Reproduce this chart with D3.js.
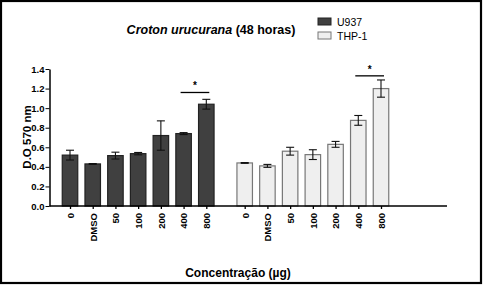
<!DOCTYPE html>
<meta charset="utf-8">
<style>
  body { margin: 0; background: #fff; }
  text { font-family: "Liberation Sans", Arial, sans-serif; }
</style>
<body>
<script src="https://d3js.org/d3.v7.min.js"></script>
<script>
  var doses = ["0", "DMSO", "50", "100", "200", "400", "800"];
  var groups = ["U937", "THP-1"];
  var u937Vals = [0.52, 0.43, 0.515, 0.535, 0.72, 0.74, 1.04];
  var u937Err  = [0.05, 0.004, 0.035, 0.012, 0.15, 0.01, 0.05];
  var thp1Vals = [0.44, 0.41, 0.56, 0.525, 0.63, 0.875, 1.20];
  var thp1Err  = [0.004, 0.015, 0.04, 0.05, 0.03, 0.05, 0.088];
  var yTicks = [0, 0.2, 0.4, 0.6, 0.8, 1.0, 1.2, 1.4];
  var sigLines = [{group: 0, y: 1.16}, {group: 1, y: 1.33}];

  var svg = d3.select("body").append("svg")
          .attr("width", 483)
          .attr("height", 285);

  svg.append("rect")
          .attr("x", 1).attr("y", 1)
          .attr("width", 480).attr("height", 282)
          .attr("fill", "none")
          .attr("stroke", "#000")
          .attr("stroke-width", 2.2);

  var groupGap = 7.69;
  var axisLeft = 49.5, axisRight = 447;
  var xScale = d3.scaleLinear().domain([0, 6 + groupGap]).range([70, 381]);
  var yScale = d3.scaleLinear().domain([0, 1.4]).range([206, 69]);
  var barW = 15.5;

  var colors = d3.scaleOrdinal().domain(groups).range(["#404040", "#efefef"]);
  var strokes = d3.scaleOrdinal().domain(groups).range(["#222", "#777"]);

  var data = [];
  [u937Vals, thp1Vals].forEach(function(vals, gi) {
    var errs = gi === 0 ? u937Err : thp1Err;
    vals.forEach(function(v, i) {
      data.push({group: groups[gi], gi: gi, dose: doses[i], pos: gi * groupGap + i, value: v, err: errs[i]});
    });
  });

  // bars
  svg.selectAll(".bar")
          .data(data)
          .enter().append("rect")
          .attr("class", "bar")
          .attr("x", function(d) { return xScale(d.pos) - barW / 2; })
          .attr("y", function(d) { return yScale(d.value); })
          .attr("width", barW)
          .attr("height", function(d) { return yScale(0) - yScale(d.value); })
          .attr("fill", function(d) { return colors(d.group); })
          .attr("stroke", function(d) { return strokes(d.group); })
          .attr("stroke-width", 1.2);

  // error bars
  var eb = svg.selectAll(".err")
          .data(data)
          .enter().append("g")
          .attr("class", "err")
          .attr("stroke", "#111")
          .attr("stroke-width", 1.1);
  eb.append("line")
          .attr("x1", function(d) { return xScale(d.pos); })
          .attr("x2", function(d) { return xScale(d.pos); })
          .attr("y1", function(d) { return yScale(d.value - d.err); })
          .attr("y2", function(d) { return yScale(d.value + d.err); });
  eb.selectAll(".cap")
          .data(function(d) { return [d.value - d.err, d.value + d.err].map(function(v) { return {pos: d.pos, v: v}; }); })
          .enter().append("line")
          .attr("x1", function(d) { return xScale(d.pos) - 4; })
          .attr("x2", function(d) { return xScale(d.pos) + 4; })
          .attr("y1", function(d) { return yScale(d.v); })
          .attr("y2", function(d) { return yScale(d.v); });

  // y axis
  var yAxis = svg.append("g")
          .attr("transform", "translate(" + axisLeft + ",0)")
          .call(d3.axisLeft(yScale).tickValues(yTicks).tickFormat(d3.format(".1f")).tickSize(4).tickSizeOuter(0));
  yAxis.select(".domain").attr("stroke-width", 1.5);
  yAxis.selectAll("text").attr("font-size", 9.5).attr("font-weight", "bold").attr("dx", 2).attr("fill", "#000");

  // x axis
  var xAxis = svg.append("g")
          .attr("transform", "translate(0," + yScale(0) + ")")
          .call(d3.axisBottom(xScale)
                  .tickValues(data.map(function(d) { return d.pos; }))
                  .tickFormat(function(p, i) { return data[i].dose; })
                  .tickSize(3).tickSizeOuter(0));
  xAxis.select(".domain").remove();
  xAxis.append("line")
          .attr("x1", axisLeft).attr("x2", axisRight)
          .attr("stroke", "#000").attr("stroke-width", 1.5);
  xAxis.selectAll(".tick line").attr("stroke-width", 1.3);
  xAxis.selectAll("text")
          .attr("font-size", 9.5)
          .attr("font-weight", "bold")
          .attr("fill", "#000")
          .attr("text-anchor", "end")
          .attr("transform", "rotate(-90)")
          .attr("x", -7)
          .attr("y", 0)
          .attr("dy", "0.35em");

  // significance
  sigLines.forEach(function(s) {
    var x1 = xScale(s.group * groupGap + 5) - 3, x2 = xScale(s.group * groupGap + 6) + 3;
    svg.append("line")
            .attr("x1", x1).attr("x2", x2)
            .attr("y1", yScale(s.y)).attr("y2", yScale(s.y))
            .attr("stroke", "#000").attr("stroke-width", 1.3);
    svg.append("text")
            .attr("x", (x1 + x2) / 2).attr("y", yScale(s.y) - 3)
            .attr("text-anchor", "middle")
            .attr("font-size", 10).attr("font-weight", "bold")
            .text("*");
  });

  // title
  var title = svg.append("text")
          .attr("x", 211).attr("y", 34)
          .attr("text-anchor", "middle")
          .attr("font-size", 12.5).attr("font-weight", "bold");
  title.append("tspan").attr("font-style", "italic").text("Croton urucurana");
  title.append("tspan").text(" (48 horas)");

  // legend
  var legend = svg.selectAll(".legend")
          .data(groups)
          .enter().append("g")
          .attr("transform", function(d, i) { return "translate(318," + (18 + i * 14) + ")"; });
  legend.append("rect")
          .attr("width", 13).attr("height", 7)
          .attr("fill", function(d) { return colors(d); })
          .attr("stroke", function(d) { return strokes(d); });
  legend.append("text")
          .attr("x", 19).attr("y", 7.5)
          .attr("font-size", 10.5)
          .style("font-family", "'Liberation Sans Narrow', 'Liberation Sans', sans-serif")
          .text(function(d) { return d; });

  // axis titles
  svg.append("text")
          .attr("transform", "translate(31,137) rotate(-90)")
          .attr("text-anchor", "middle")
          .attr("font-size", 11.5).attr("font-weight", "bold")
          .text("D.O 570 nm");
  svg.append("text")
          .attr("x", 238).attr("y", 277)
          .attr("text-anchor", "middle")
          .attr("font-size", 12).attr("font-weight", "bold")
          .text("Concentração (µg)");
</script>
</body>
</html>
